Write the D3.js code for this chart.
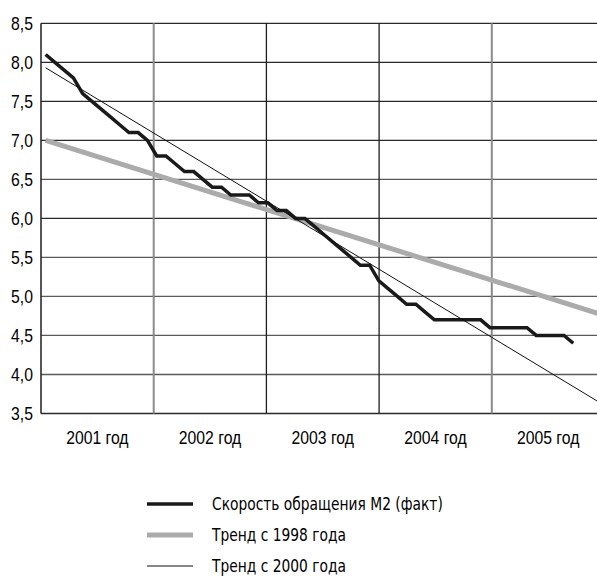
<!DOCTYPE html>
<html>
<head>
<meta charset="utf-8">
<script src="https://cdn.jsdelivr.net/npm/d3@7"></script>
<style>
  body { margin: 0; background: #fff; }
  svg { display: block; font-family: "DejaVu Sans Condensed", "DejaVu Sans", sans-serif; }
</style>
</head>
<body>
<div id="chart"></div>
<script>
// year bands on the x axis
const years = ["2001", "2002", "2003", "2004", "2005"];
const yTicks = [3.5, 4.0, 4.5, 5.0, 5.5, 6.0, 6.5, 7.0, 7.5, 8.0, 8.5];

// monthly M2 velocity, Jan 2001 .. Oct 2005
const firstMonth = "2001-01";
const velocity = [
  8.1, 8.0, 7.9, 7.8, 7.6, 7.5, 7.4, 7.3, 7.2, 7.1, 7.1, 7.0,
  6.8, 6.8, 6.7, 6.6, 6.6, 6.5, 6.4, 6.4, 6.3, 6.3, 6.3, 6.2,
  6.2, 6.1, 6.1, 6.0, 6.0, 5.9, 5.8, 5.7, 5.6, 5.5, 5.4, 5.4,
  5.2, 5.1, 5.0, 4.9, 4.9, 4.8, 4.7, 4.7, 4.7, 4.7, 4.7, 4.7,
  4.6, 4.6, 4.6, 4.6, 4.6, 4.5, 4.5, 4.5, 4.5, 4.4
];

// straight trend lines, given by their end points
const trend1998 = [["2001-01", 7.0], ["2006-01", 4.77]];
const trend2000 = [["2001-01", 7.93], ["2006-01", 3.63]];

const legendLabels = [
  "Скорость обращения М2 (факт)",
  "Тренд с 1998 года",
  "Тренд с 2000 года"
];

const width = 597;
const height = 577;
const marginLeft = 41;
const plotTop = 23.3;
const plotBottom = 413.5;
const squeeze = 0.83; // narrow the font to look like the condensed original

const parseMonth = d3.timeParse("%Y-%m");
const start = parseMonth(firstMonth);
const monthIndex = s => d3.timeMonth.count(start, parseMonth(s));

// months are spread on 60 slots, year bands are a bit wider (chart is cropped on the right)
const xm = d3.scaleLinear().domain([0, 60]).range([marginLeft, 596.4]);
const xYear = d3.scaleBand().domain(years).range([marginLeft, 604.5]);
const y = d3.scaleLinear().domain([3.5, 8.5]).range([plotBottom, plotTop]);

const ru = d3.formatLocale({decimal: ",", thousands: " ", grouping: [3], currency: ["", ""]});
const fmt = ru.format(".1f");

const svg = d3.select("#chart")
  .append("svg")
  .attr("width", width)
  .attr("height", height)
  .attr("viewBox", [0, 0, width, height]);

// horizontal grid
svg.append("g")
  .selectAll("line")
  .data(yTicks)
  .join("line")
    .attr("x1", marginLeft)
    .attr("x2", width)
    .attr("y1", d => y(d))
    .attr("y2", d => y(d))
    .attr("stroke", (d, i) => [0, 5, 7].includes(i) || d >= 7.5 ? "#2a2a2a" : "#5a5a5a")
    .attr("stroke-width", 1.3);

// year separators
svg.append("g")
  .selectAll("line")
  .data(years.slice(1))
  .join("line")
    .attr("x1", d => xYear(d))
    .attr("x2", d => xYear(d))
    .attr("y1", plotTop)
    .attr("y2", plotBottom)
    .attr("stroke", (d, i) => i % 3 === 0 ? "#8a8a8a" : "#1e1e1e")
    .attr("stroke-width", (d, i) => i % 3 === 0 ? 2 : 1.3);

// left edge
svg.append("line")
  .attr("x1", marginLeft).attr("x2", marginLeft)
  .attr("y1", plotTop).attr("y2", plotBottom)
  .attr("stroke", "#1e1e1e")
  .attr("stroke-width", 1.5);

// y labels
svg.append("g")
  .attr("transform", `translate(${marginLeft},0)`)
  .call(d3.axisLeft(y).tickValues(yTicks).tickFormat(fmt).tickSize(0).tickPadding(8 / squeeze))
  .call(g => g.select(".domain").remove())
  .call(g => g.selectAll("text")
    .attr("font-family", null)
    .attr("font-size", 19)
    .attr("fill", "#000")
    .attr("transform", `scale(${squeeze},1)`));

// x labels
svg.append("g")
  .attr("transform", `translate(0,${plotBottom})`)
  .call(d3.axisBottom(xYear).tickSize(0).tickPadding(17).tickFormat(d => d + " год"))
  .call(g => g.select(".domain").remove())
  .call(g => g.selectAll("text")
    .attr("font-family", null)
    .attr("font-size", 19)
    .attr("fill", "#000")
    .attr("transform", `scale(${squeeze},1)`));

const line = d3.line()
  .x(d => xm(d[0] + 0.5))
  .y(d => y(d[1]));

// trend since 1998
svg.append("path")
  .datum(trend1998.map(d => [monthIndex(d[0]), d[1]]))
  .attr("fill", "none")
  .attr("stroke", "#ababab")
  .attr("stroke-width", 5)
  .attr("d", line);

// actual series
svg.append("path")
  .datum(velocity.map((v, i) => [i, v]))
  .attr("fill", "none")
  .attr("stroke", "#1a1a1a")
  .attr("stroke-width", 3.5)
  .attr("stroke-linejoin", "miter")
  .attr("d", line);

// trend since 2000
svg.append("path")
  .datum(trend2000.map(d => [monthIndex(d[0]), d[1]]))
  .attr("fill", "none")
  .attr("stroke", "#111")
  .attr("stroke-width", 1)
  .attr("d", line);

// legend
const legendStyles = [
  {stroke: "#1a1a1a", w: 3.5},
  {stroke: "#ababab", w: 5},
  {stroke: "#111", w: 1}
];
const legend = svg.append("g")
  .selectAll("g")
  .data(legendLabels)
  .join("g")
    .attr("transform", (d, i) => `translate(147,${504 + i * 31})`);

legend.append("line")
  .attr("x1", 0).attr("x2", 46)
  .attr("stroke", (d, i) => legendStyles[i].stroke)
  .attr("stroke-width", (d, i) => legendStyles[i].w);

legend.append("text")
  .attr("x", 65 / squeeze)
  .attr("dy", "0.35em")
  .attr("font-size", 18.5)
  .attr("fill", "#000")
  .attr("transform", `scale(${squeeze},1)`)
  .text(d => d);
</script>
</body>
</html>
